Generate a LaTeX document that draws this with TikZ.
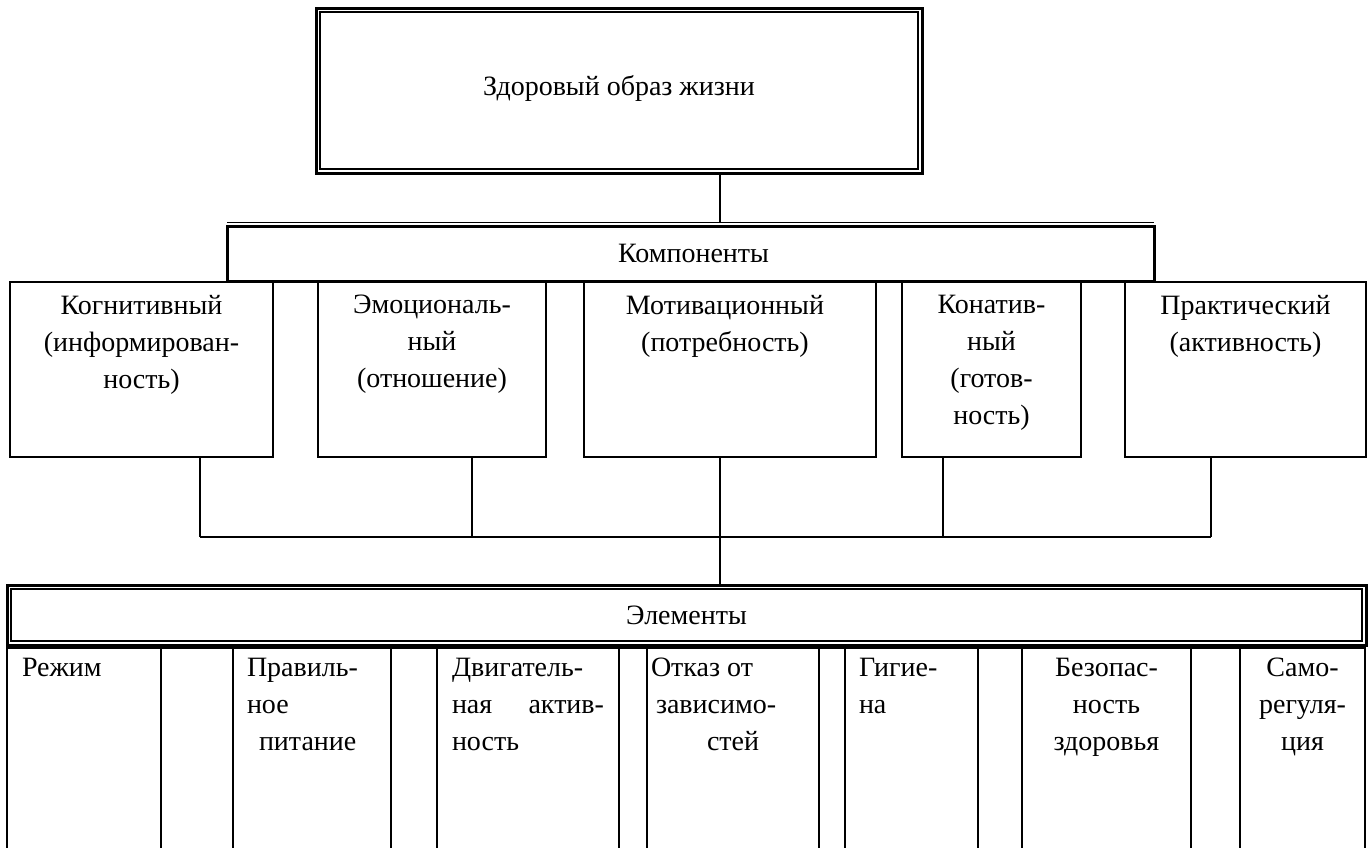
\documentclass[tikz,border=0pt]{standalone}
\usepackage{fontspec}
\setmainfont{Liberation Serif}
\usetikzlibrary{calc}
\begin{document}
\begin{tikzpicture}[x=1pt,y=-1pt,
  every node/.style={inner sep=0pt, outer sep=0pt},
  txt/.style={font=\fontsize{28}{37}\selectfont, align=center},
  dblbox/.style={draw, line width=3pt},
  compbox/.style={draw, line width=1.8pt, minimum height=175pt},
  cellbox/.style={draw, line width=1.6pt, anchor=north west, minimum height=230pt},
  ln/.style={line width=1.8pt},
]
\useasboundingbox (0,0) rectangle (1369,847);

% top box
\node[dblbox, minimum width=606pt, minimum height=165pt] (zoz) at (619,90.5) {};
\draw[line width=1.2pt] ([shift={(4pt,-4pt)}]zoz.north west) rectangle ([shift={(-4pt,4pt)}]zoz.south east);
\node[txt] (zoztxt) at ([yshift=2pt]zoz.center) {Здоровый образ жизни};

% components header
\node[dblbox, minimum width=927pt, minimum height=55pt] (komp) at (690.5,253.5) {};
\draw[line width=1.2pt] ([yshift=3.5pt]komp.north west) coordinate (kt) -- ([yshift=3.5pt]komp.north east);
\node[txt] (komptxt) at ([xshift=3pt]komp.center) {Компоненты};

% component boxes
\node[compbox, minimum width=263pt] (c1) at (141.5,369.5) {};
\node[compbox, minimum width=228pt] (c2) at (432,369.5) {};
\node[compbox, minimum width=292pt] (c3) at (730,369.5) {};
\node[compbox, minimum width=179pt] (c4) at (991.5,369.5) {};
\node[compbox, minimum width=241pt] (c5) at (1245.5,369.5) {};

\node[txt, anchor=north] (c1t) at ([yshift=-13pt]c1.north) {Когнитивный\\(информирован-\\ность)};
\node[txt, anchor=north] (c2t) at ([yshift=-13pt]c2.north) {Эмоциональ-\\ный\\(отношение)};
\node[txt, anchor=north] (c3t) at ([shift={(-5pt,-13pt)}]c3.north) {Мотивационный\\(потребность)};
\node[txt, anchor=north] (c4t) at ([yshift=-13pt]c4.north) {Конатив-\\ный\\(готов-\\ность)};
\node[txt, anchor=north] (c5t) at ([yshift=-13pt]c5.north) {Практический\\(активность)};

% bus
\coordinate (b1) at (200,537);
\coordinate (b2) at (472,537);
\coordinate (b3) at (720,537);
\coordinate (b4) at (943,537);
\coordinate (b5) at (1211,537);

% elements header
\node[dblbox, minimum width=1359pt, minimum height=60pt] (elem) at (686.5,615) {};
\draw[line width=1.2pt] ([shift={(4pt,-4pt)}]elem.north west) rectangle ([shift={(-4pt,4pt)}]elem.south east);
\node[txt] (elemtxt) at (elem.center) {Элементы};

% connectors
\draw[ln] (zoz.south -| b3) -- (b3 |- kt);
\draw[ln] (b1 |- c1.south) -- (b1);
\draw[ln] (b2 |- c2.south) -- (b2);
\draw[ln] (b3 |- c3.south) -- (b3);
\draw[ln] (b4 |- c4.south) -- (b4);
\draw[ln] (b5 |- c5.south) -- (b5);
\draw[ln] (b1) -- (b5);
\draw[ln] (b3) -- (b3 |- elem.north);

% element cells
\foreach \i/\a/\b in {1/7/161, 2/161/233, 3/233/391, 4/391/437, 5/437/619, 6/619/647, 7/647/819, 8/819/845, 9/845/978, 10/978/1022, 11/1022/1191, 12/1191/1240, 13/1240/1365}
  \node[cellbox, minimum width={(\b-\a)*1pt}] (e\i) at (\a,648) {};

\node[txt, anchor=north west, align=left] (t1) at ([shift={(15pt,-10pt)}]e1.north west) {Режим};
\node[txt, anchor=north west, align=left] (t3) at ([shift={(14pt,-10pt)}]e3.north west) {Правиль-\\ное\\\hspace*{12pt}питание};
\node[txt, anchor=north west, align=left, text width=152pt] (t5) at ([shift={(15pt,-10pt)}]e5.north west) {Двигатель-\\ная\hfill актив-\\ность};
\node[txt, anchor=north west, align=left] (t7) at ([shift={(4pt,-10pt)}]e7.north west) {Отказ от\\\hspace*{5pt}зависимо-\\\hspace*{56pt}стей};
\node[txt, anchor=north west, align=left] (t9) at ([shift={(14pt,-10pt)}]e9.north west) {Гигие-\\на};
\node[txt, anchor=north] (t11) at ([yshift=-10pt]e11.north) {Безопас-\\ность\\здоровья};
\node[txt, anchor=north] (t13) at ([yshift=-10pt]e13.north) {Само-\\регуля-\\ция};
\end{tikzpicture}
\end{document}
